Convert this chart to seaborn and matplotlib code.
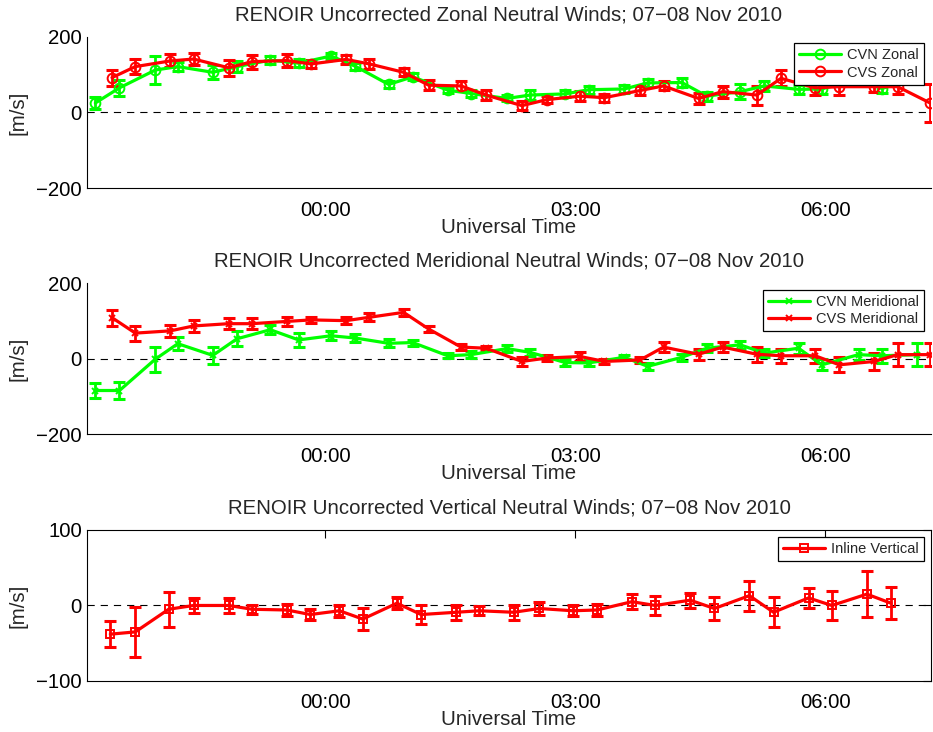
import numpy as np
import pandas as pd
import matplotlib
matplotlib.use("Agg")
import matplotlib.pyplot as plt
import matplotlib.dates as mdates
import seaborn as sns

# ---- data: hours relative to 2010-11-08 00:00 UT, winds in m/s ----
cvn_hours = [-2.76, -2.47, -2.04, -1.77, -1.35, -1.06, -0.66, -0.32, 0.07, 0.36,
             0.76, 1.05, 1.47, 1.75, 2.18, 2.46, 2.88, 3.16, 3.59, 3.87,
             4.28, 4.58, 4.98, 5.27, 5.68, 5.96, 6.40, 6.68, 7.10]
cvs_hours = [-2.56, -2.28, -1.86, -1.58, -1.16, -0.88, -0.46, -0.17, 0.25, 0.53,
             0.94, 1.24, 1.63, 1.93, 2.36, 2.66, 3.06, 3.35, 3.78, 4.06,
             4.48, 4.77, 5.18, 5.47, 5.88, 6.17, 6.59, 6.87, 7.26]
vert_hours = [-2.58, -2.28, -1.88, -1.58, -1.16, -0.88, -0.46, -0.18, 0.17, 0.45,
              0.86, 1.15, 1.57, 1.85, 2.26, 2.57, 2.97, 3.26, 3.68, 3.96,
              4.38, 4.67, 5.09, 5.38, 5.80, 6.08, 6.50, 6.79]

cvn_zonal = [25, 65, 112, 121, 106, 121, 138, 130, 149, 122,
             74, 94, 59, 50, 37, 46, 49, 60, 62, 78,
             79, 43, 55, 70, 61, 62, 90, 63, 92]
cvn_zonal_err = [16, 21, 37, 12, 18, 14, 10, 11, 9, 9,
                 10, 9, 8, 10, 8, 12, 9, 11, 11, 10,
                 11, 12, 19, 13, 12, 12, 12, 12, 14]
cvs_zonal = [92, 121, 136, 141, 118, 134, 137, 128, 140, 128,
             106, 72, 70, 46, 18, 34, 43, 39, 58, 70,
             37, 55, 46, 90, 65, 68, 68, 68, 25]
cvs_zonal_err = [21, 20, 17, 16, 21, 18, 17, 11, 11, 13,
                 11, 13, 13, 12, 12, 10, 13, 11, 12, 12,
                 14, 16, 25, 21, 18, 22, 15, 20, 50]

cvn_merid = [-84, -84, -1, 40, 9, 53, 77, 50, 61, 55,
             41, 43, 8, 11, 27, 17, -10, -11, 4, -20,
             4, 28, 37, 15, 28, -16, 11, 8, 11]
cvn_merid_err = [21, 23, 33, 18, 23, 20, 12, 18, 12, 11,
                 11, 8, 7, 9, 10, 9, 9, 8, 7, 10,
                 10, 10, 10, 10, 15, 15, 15, 18, 30]
cvs_merid = [109, 68, 74, 87, 93, 93, 99, 103, 101, 110,
             123, 79, 31, 28, -7, 2, 6, -7, -3, 31,
             12, 31, 12, 8, 8, -16, -7, 11, 11]
cvs_merid_err = [21, 20, 15, 17, 15, 15, 11, 9, 9, 10,
                 10, 7, 8, 6, 12, 7, 12, 7, 8, 14,
                 14, 14, 20, 18, 18, 20, 22, 30, 30]

inline_vert = [-38, -35, -5, 0, 0, -5, -6, -12, -7, -18,
               3, -12, -9, -7, -9, -4, -7, -6, 5, 0,
               7, -4, 13, -9, 10, 0, 15, 3]
inline_vert_err = [17, 33, 23, 10, 10, 6, 8, 7, 8, 14,
                   8, 12, 10, 6, 10, 9, 7, 8, 10, 12,
                   10, 15, 20, 20, 13, 19, 30, 21]

DAY = pd.Timestamp("2010-11-08 00:00")


def to_time(hours):
    return DAY + pd.to_timedelta(np.asarray(hours, dtype=float), unit="h")


# ---- style ----
sns.set_style("white")
plt.rcParams["font.family"] = ["Liberation Sans", "DejaVu Sans"]
plt.rcParams["lines.scale_dashes"] = False
plt.rcParams["axes.unicode_minus"] = True

GREEN = (0.0, 1.0, 0.0)
RED = (1.0, 0.0, 0.0)
FS = 14.7

fig = plt.figure(figsize=(9.33, 7.32), dpi=100)
left, width = 0.0936, 0.9038
ax1 = fig.add_axes([left, 0.7428, width, 0.2071])
ax2 = fig.add_axes([left, 0.4067, width, 0.2063])
ax3 = fig.add_axes([left, 0.0697, width, 0.2063])


def series(ax, hours, vals, errs, color, marker, label, ms, mfc="none"):
    df = pd.DataFrame({"time": to_time(hours), "wind": vals, "err": errs})
    ax.errorbar(df["time"], df["wind"], yerr=df["err"], fmt="none",
                ecolor=color, elinewidth=2.0, capsize=4.6, capthick=2.2,
                zorder=3)
    sns.lineplot(data=df, x="time", y="wind", ax=ax, color=color,
                 marker=marker, markersize=ms, markerfacecolor=mfc,
                 markeredgecolor=color, markeredgewidth=1.4, linewidth=2.3,
                 estimator=None, errorbar=None, label=label, zorder=4)


series(ax1, cvn_hours, cvn_zonal, cvn_zonal_err, GREEN, "o", "CVN Zonal", 7)
series(ax1, cvs_hours, cvs_zonal, cvs_zonal_err, RED, "o", "CVS Zonal", 7)

series(ax2, cvn_hours, cvn_merid, cvn_merid_err, GREEN, "x", "CVN Meridional", 4)
series(ax2, cvs_hours, cvs_merid, cvs_merid_err, RED, "x", "CVS Meridional", 4)

series(ax3, vert_hours, inline_vert, inline_vert_err, RED, "s", "Inline Vertical", 5.5)

titles = [
    "RENOIR Uncorrected Zonal Neutral Winds; 07\u221208 Nov 2010",
    "RENOIR Uncorrected Meridional Neutral Winds; 07\u221208 Nov 2010",
    "RENOIR Uncorrected Vertical Neutral Winds; 07\u221208 Nov 2010",
]
ylims = [(-200, 200), (-200, 200), (-100, 100)]
yticks = [[-200, 0, 200], [-200, 0, 200], [-100, 0, 100]]
xticks = to_time([0, 3, 6])
xlim = to_time([-2.856, 7.265])

for i, ax in enumerate([ax1, ax2, ax3]):
    ax.axhline(0, color="k", linestyle=(0, (5.2, 4.3)), linewidth=0.8, zorder=2)
    ax.set_xlim(xlim[0], xlim[1])
    ax.set_ylim(*ylims[i])
    ax.set_yticks(yticks[i])
    ax.set_xticks(xticks)
    ax.xaxis.set_major_formatter(mdates.DateFormatter("%H:%M"))
    ax.set_title(titles[i], fontsize=FS, pad=12)
    ax.set_xlabel("Universal Time", fontsize=FS, labelpad=-1.5)
    ax.set_ylabel("[m/s]", fontsize=FS, labelpad=6)
    boxed = (ax is ax3)
    ax.tick_params(direction="in", length=5.5, width=0.8, labelsize=FS,
                   top=boxed, right=boxed, colors="k")
    ax.tick_params(axis="x", pad=9)
    ax.tick_params(axis="y", pad=4)
    for side in ["left", "bottom", "top", "right"]:
        ax.spines[side].set_color("k")
        ax.spines[side].set_linewidth(0.8)
    if not boxed:
        ax.spines["top"].set_visible(False)
        ax.spines["right"].set_visible(False)
    ax.grid(False)
    leg = ax.legend(loc="upper right", fontsize=10.5, frameon=True,
                    fancybox=False, framealpha=1, edgecolor="k",
                    handlelength=2.9, labelspacing=0.22, borderpad=0.35,
                    borderaxespad=0.45, handletextpad=0.4)
    leg.get_frame().set_linewidth(0.9)
    leg.set_zorder(10)

fig.savefig("out.png", dpi=100)
